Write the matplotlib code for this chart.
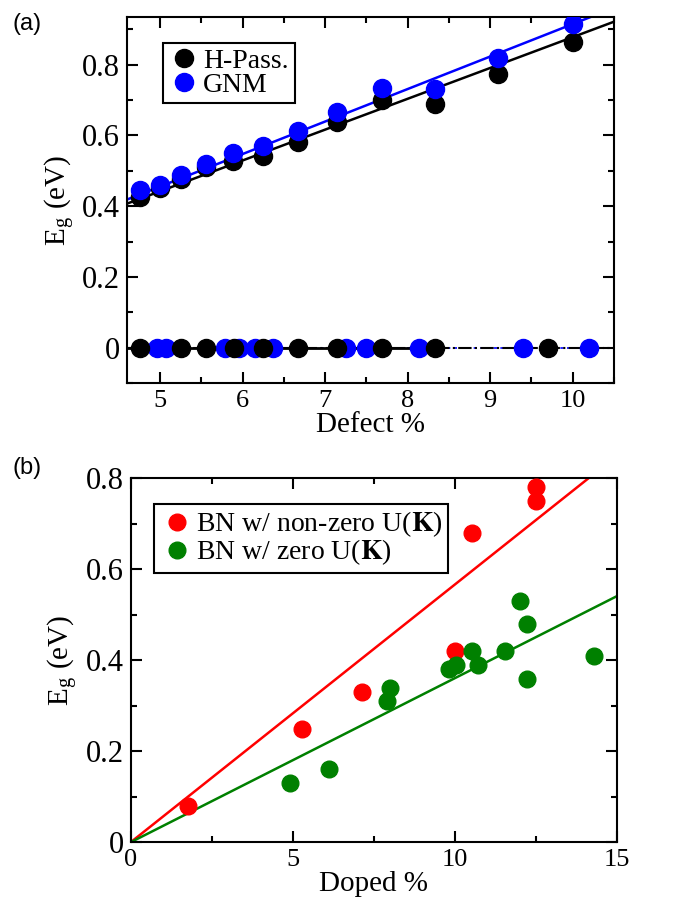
import numpy as np
import matplotlib.pyplot as plt
from matplotlib.ticker import MultipleLocator

plt.rcParams['font.family'] = ['Liberation Serif', 'DejaVu Serif']
plt.rcParams['mathtext.fontset'] = 'stix'

# ---------- (a) defect data ----------
defect_x = [4.76, 5.00, 5.26, 5.56, 5.88, 6.25, 6.67, 7.14, 7.69, 8.33, 9.09, 10.0]
hpass_eg = [0.426, 0.45, 0.478, 0.51, 0.528, 0.542, 0.582, 0.639, 0.70, 0.688, 0.773, 0.863]
gnm_eg = [0.445, 0.46, 0.488, 0.519, 0.551, 0.57, 0.613, 0.665, 0.733, 0.73, 0.82, 0.915]

hpass_zero_x = [4.76, 5.26, 5.56, 5.89, 6.25, 6.67, 7.14, 7.69, 8.33, 9.70]
gnm_zero_x = [4.96, 5.07, 5.79, 5.96, 6.15, 6.37, 7.25, 7.49, 8.14, 9.40, 10.2]

hpass_fit = (0.0872, 0.006)   # slope, intercept
gnm_fit = (0.0919, -0.004)

# ---------- (b) doped data ----------
nonzero_x = [1.78, 5.27, 7.14, 10.0, 10.51, 12.49, 12.49]
nonzero_eg = [0.08, 0.25, 0.33, 0.42, 0.68, 0.78, 0.75]
zero_x = [4.91, 6.12, 7.89, 7.99, 9.82, 10.03, 10.53, 10.72, 11.54, 12.0, 12.23, 12.23, 14.28]
zero_eg = [0.13, 0.16, 0.31, 0.34, 0.38, 0.39, 0.42, 0.39, 0.42, 0.53, 0.48, 0.36, 0.41]

nonzero_slope = 0.0567
zero_slope = 0.0361

fig = plt.figure(figsize=(6.84, 9.02), dpi=100)
ax1 = fig.add_axes([0.1857, 0.5754, 0.712, 0.4058])
ax2 = fig.add_axes([0.191, 0.0662, 0.7115, 0.4035])

ms = 13


def style_axes(ax):
    for s in ax.spines.values():
        s.set_linewidth(1.5)
    ax.tick_params(which='both', direction='in', top=True, right=True, width=1.5)
    ax.tick_params(axis='x', labelsize=19)
    ax.tick_params(axis='y', labelsize=22)
    ax.tick_params(which='major', length=8, pad=5)
    ax.tick_params(which='minor', length=4)


# ---------- panel (a) ----------
xs = np.array([4.6, 10.5])
ax1.plot(xs, [0, 0], color='blue', ls=(0, (2, 2)), lw=1.2, zorder=1)
ax1.plot(xs, [0, 0], color='black', ls='-.', lw=1.5, zorder=1)
ax1.plot([4.6, 8.33], [0, 0], color='black', lw=2, zorder=1)
ax1.plot(xs, hpass_fit[0] * xs + hpass_fit[1], color='black', lw=1.8, zorder=2)
ax1.plot(xs, gnm_fit[0] * xs + gnm_fit[1], color='blue', lw=1.8, zorder=2)

ax1.plot(defect_x, hpass_eg, 'o', color='black', ms=ms, ls='none', zorder=3, label='H-Pass.')
ax1.plot(defect_x, gnm_eg, 'o', color='blue', ms=ms, ls='none', zorder=4, label='GNM')
ax1.plot(gnm_zero_x, np.zeros(len(gnm_zero_x)), 'o', color='blue', ms=ms, ls='none', zorder=3)
ax1.plot(hpass_zero_x, np.zeros(len(hpass_zero_x)), 'o', color='black', ms=ms, ls='none', zorder=4)

ax1.set_xlim(4.6, 10.5)
ax1.set_ylim(-0.1, 0.935)
ax1.xaxis.set_major_locator(MultipleLocator(1))
ax1.xaxis.set_minor_locator(MultipleLocator(0.5))
ax1.set_yticks([0, 0.2, 0.4, 0.6, 0.8], ['0', '0.2', '0.4', '0.6', '0.8'])
ax1.yaxis.set_minor_locator(MultipleLocator(0.1))
style_axes(ax1)
ax1.set_xlabel('Defect %', fontsize=21, labelpad=0)
ax1.set_ylabel(r'E$_\mathregular{g}$ (eV)', fontsize=21, labelpad=4)

leg1 = ax1.legend(loc='upper left', bbox_to_anchor=(0.074, 0.93), fontsize=20,
                  frameon=True, fancybox=False, edgecolor='black', framealpha=1,
                  handletextpad=0.15, borderpad=0.2, labelspacing=-0.05,
                  handlelength=1.1, borderaxespad=0)
leg1.get_frame().set_linewidth(1.5)

# ---------- panel (b) ----------
xb = np.array([0, 15])
ax2.plot(xb, nonzero_slope * xb, color='red', lw=1.8, zorder=2)
ax2.plot(xb, zero_slope * xb, color='green', lw=1.8, zorder=2)
ax2.plot(nonzero_x, nonzero_eg, 'o', color='red', ms=12, ls='none', zorder=3,
         label=r'BN w/ non-zero U($\mathbf{K}$)')
ax2.plot(zero_x, zero_eg, 'o', color='green', ms=12, ls='none', zorder=4,
         label=r'BN w/ zero U($\mathbf{K}$)')

ax2.set_xlim(0, 15)
ax2.set_ylim(0, 0.8)
ax2.xaxis.set_major_locator(MultipleLocator(5))
ax2.xaxis.set_minor_locator(MultipleLocator(2.5))
ax2.set_yticks([0, 0.2, 0.4, 0.6, 0.8], ['0', '0.2', '0.4', '0.6', '0.8'])
ax2.yaxis.set_minor_locator(MultipleLocator(0.1))
style_axes(ax2)
ax2.set_xlabel('Doped %', fontsize=21, labelpad=0)
ax2.set_ylabel(r'E$_\mathregular{g}$ (eV)', fontsize=21, labelpad=4)

leg2 = ax2.legend(loc='upper left', bbox_to_anchor=(0.049, 0.93), fontsize=20,
                  frameon=True, fancybox=False, edgecolor='black', framealpha=1,
                  handletextpad=0.1, borderpad=0.2, labelspacing=-0.05,
                  handlelength=1.2, borderaxespad=0)
leg2.get_frame().set_linewidth(1.5)

fig.text(0.019, 0.986, '(a)', fontsize=17, family='Liberation Sans', va='top')
fig.text(0.019, 0.493, '(b)', fontsize=17, family='Liberation Sans', va='top')

fig.savefig('out.png', dpi=100)
